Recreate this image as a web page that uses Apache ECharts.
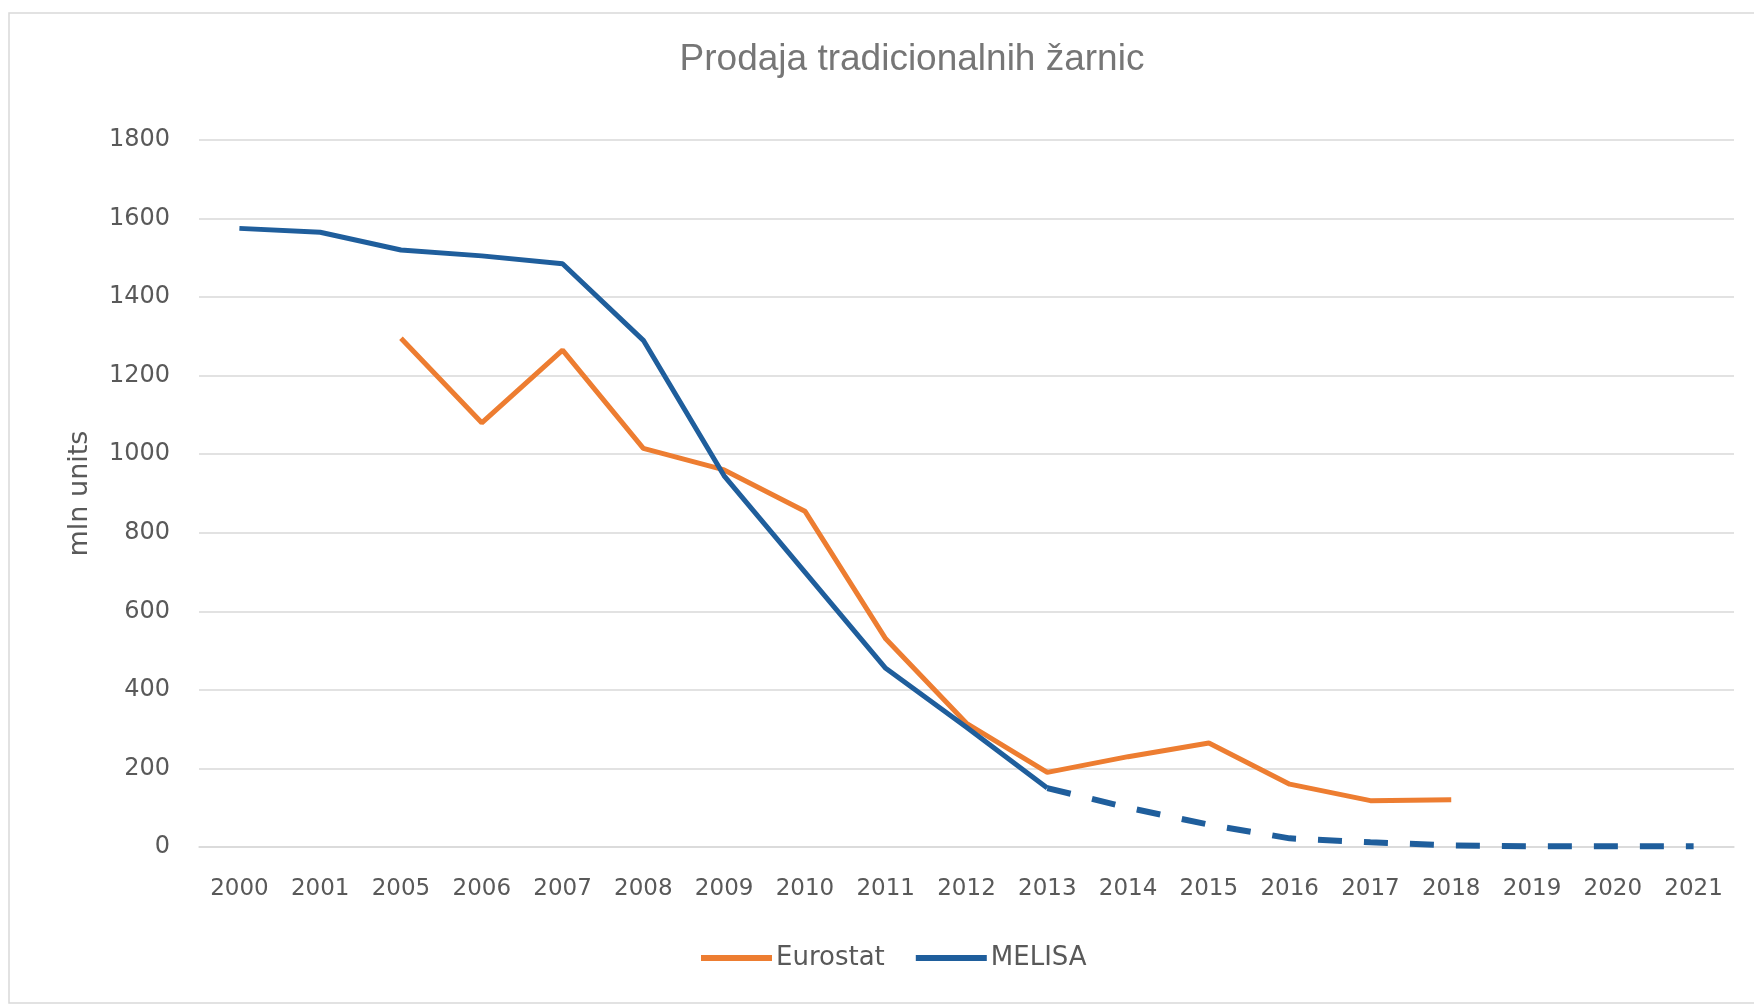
<!DOCTYPE html>
<html>
<head>
<meta charset="utf-8">
<title>Prodaja tradicionalnih žarnic</title>
<script src="https://cdn.jsdelivr.net/npm/echarts@6/dist/echarts.min.js"></script>
<style>
  html, body { margin: 0; padding: 0; background: #fff; }
  #chart { width: 1754px; height: 1007px; }
</style>
</head>
<body>
<div id="chart"></div>
<script>
// leta (kategorije) – os ni zvezna, 2002-2004 manjkajo
const years = ['2000', '2001', '2005', '2006', '2007', '2008', '2009', '2010', '2011', '2012',
  '2013', '2014', '2015', '2016', '2017', '2018', '2019', '2020', '2021']

// Eurostat, mln enot
const eurostat = [null, null, 1295, 1080, 1265, 1015, 960, 855, 530, 315,
  190, 230, 265, 160, 118, 120, null, null, null]

// MELISA, mln enot (od 2013 naprej napoved – črtkano)
const melisa = [1575, 1565, 1520, 1505, 1485, 1290, 945, 700, 455, 305,
  150, 100, 57, 22, 12, 4, 2, 2, 2]

const forecastFrom = '2013'
const yTicks = [0, 200, 400, 600, 800, 1000, 1200, 1400, 1600, 1800]

const cut = years.indexOf(forecastFrom)
const melisaSolid = melisa.map((v, i) => (i <= cut ? v : null))
const melisaDashed = melisa.map((v, i) => (i >= cut ? v : null))

const orange = '#ed7d31'
const blue = '#1f5e9c'
const labelColor = '#595959'

const chart = echarts.init(document.getElementById('chart'))

chart.setOption({
  backgroundColor: '#fff',
  animation: false,
  graphic: [{
    type: 'rect',
    shape: { x: 9, y: 13, width: 1760, height: 990 },
    style: { fill: 'none', stroke: '#d9d9d9', lineWidth: 1.5 },
    silent: true
  }],
  title: {
    text: 'Prodaja tradicionalnih žarnic',
    left: 912,
    top: 41,
    padding: 0,
    textAlign: 'center',
    textStyle: {
      fontFamily: 'Liberation Sans',
      fontSize: 37,
      fontWeight: 'normal',
      color: '#767676'
    }
  },
  legend: {
    data: ['Eurostat', 'MELISA'],
    left: 701,
    top: 945,
    padding: 0,
    icon: 'rect',
    itemWidth: 71,
    itemHeight: 6,
    itemGap: 31,
    textStyle: {
      fontFamily: 'DejaVu Sans',
      fontSize: 26,
      color: labelColor,
      padding: [0, 0, 0, -1]
    }
  },
  grid: {
    left: 199,
    right: 20,
    top: 140,
    bottom: 160
  },
  xAxis: {
    type: 'category',
    data: years,
    boundaryGap: true,
    axisLine: { show: true, lineStyle: { color: '#d9d9d9', width: 1.5 } },
    axisTick: { show: false },
    axisLabel: {
      interval: 0,
      margin: 31,
      fontFamily: 'DejaVu Sans',
      fontSize: 23,
      color: labelColor
    },
    splitLine: { show: false }
  },
  yAxis: {
    type: 'value',
    min: yTicks[0],
    max: yTicks[yTicks.length - 1],
    interval: 200,
    name: 'mln units',
    nameLocation: 'middle',
    nameGap: 106,
    nameTextStyle: {
      fontFamily: 'DejaVu Sans',
      fontSize: 27,
      color: labelColor
    },
    axisLine: { show: false },
    axisTick: { show: false },
    axisLabel: {
      margin: 29,
      fontFamily: 'DejaVu Sans',
      fontSize: 24,
      color: labelColor,
      formatter: v => String(v)
    },
    splitLine: { show: true, lineStyle: { color: '#d9d9d9', width: 1.5 } }
  },
  series: [
    {
      name: 'Eurostat',
      type: 'line',
      data: eurostat,
      symbol: 'none',
      connectNulls: false,
      itemStyle: { color: orange },
      lineStyle: { color: orange, width: 5 },
      z: 2
    },
    {
      name: 'MELISA',
      type: 'line',
      data: melisaSolid,
      symbol: 'none',
      itemStyle: { color: blue },
      lineStyle: { color: blue, width: 5 },
      z: 3
    },
    {
      name: 'MELISA napoved',
      type: 'line',
      data: melisaDashed,
      symbol: 'none',
      itemStyle: { color: blue },
      lineStyle: { color: blue, width: 6, type: [24, 22] },
      z: 3
    }
  ]
})
</script>
</body>
</html>
